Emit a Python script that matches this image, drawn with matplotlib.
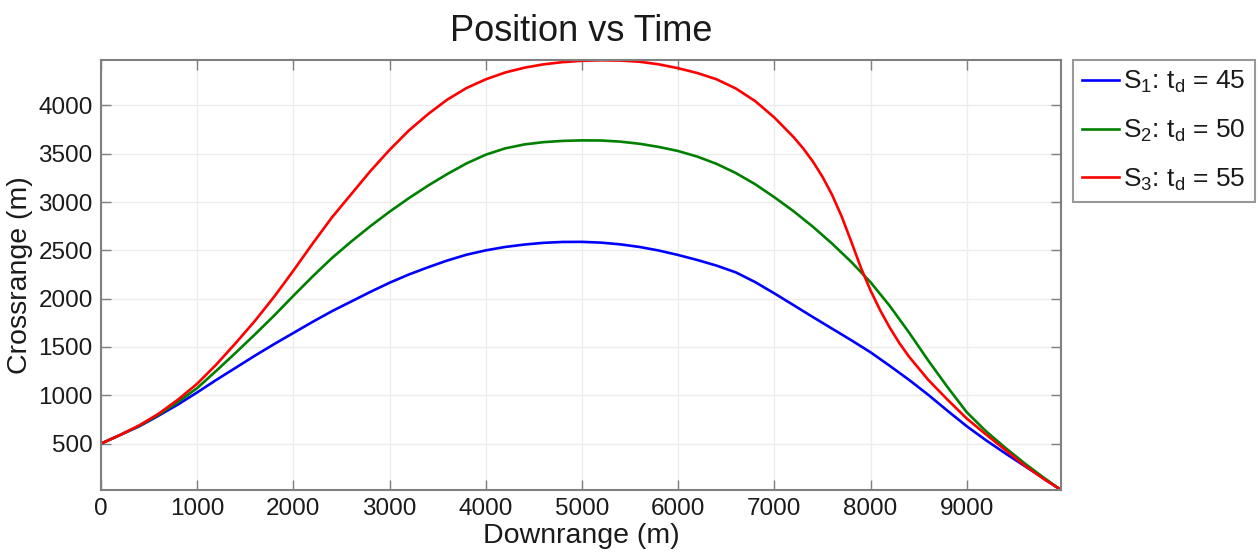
import matplotlib
matplotlib.use("Agg")
import matplotlib.pyplot as plt

plt.rcParams['font.family'] = ['Liberation Sans', 'DejaVu Sans']
plt.rcParams['mathtext.fontset'] = 'custom'
plt.rcParams['mathtext.rm'] = 'Liberation Sans'
plt.rcParams['mathtext.it'] = 'Liberation Sans'

# ---- data ----
blue_x = [0, 200, 400, 600, 800, 1000, 1200, 1400, 1600, 1800, 2000, 2200, 2400, 2600,
          2800, 3000, 3200, 3400, 3600, 3800, 4000, 4200, 4400, 4600, 4800, 5000, 5200,
          5400, 5600, 5800, 6000, 6200, 6400, 6600, 6800, 7000, 7200, 7400, 7600, 7800,
          8000, 8200, 8400, 8600, 8800, 9000, 9200, 9400, 9600, 9800, 9980]
blue_y = [500, 590, 680, 790, 905, 1030, 1160, 1285, 1410, 1530, 1645, 1760, 1870, 1970,
          2070, 2165, 2250, 2325, 2395, 2455, 2500, 2535, 2560, 2578, 2587, 2588, 2580,
          2562, 2535, 2498, 2452, 2400, 2342, 2272, 2172, 2055, 1933, 1810, 1690, 1570,
          1445, 1305, 1160, 1005, 840, 680, 535, 400, 270, 140, 20]

green_x = [0, 200, 400, 600, 800, 1000, 1200, 1400, 1600, 1800, 2000, 2200, 2400, 2600,
           2800, 3000, 3200, 3400, 3600, 3800, 4000, 4200, 4400, 4600, 4800, 5000, 5200,
           5400, 5600, 5800, 6000, 6200, 6400, 6600, 6800, 7000, 7200, 7400, 7600, 7800,
           8000, 8200, 8400, 8600, 8800, 9000, 9200, 9400, 9600, 9800, 9980]
green_y = [500, 590, 685, 800, 930, 1075, 1255, 1440, 1630, 1825, 2030, 2230, 2420, 2590,
           2750, 2900, 3040, 3170, 3290, 3400, 3490, 3555, 3596, 3620, 3633, 3638, 3637,
           3625, 3603, 3570, 3528, 3470, 3395, 3300, 3185, 3050, 2905, 2745, 2570, 2380,
           2170, 1925, 1650, 1360, 1085, 825, 628, 458, 297, 148, 20]

red_x = [0, 200, 400, 600, 800, 1000, 1200, 1400, 1600, 1800, 2000, 2200, 2400, 2600,
         2800, 3000, 3200, 3400, 3600, 3800, 4000, 4200, 4400, 4600, 4800, 5000, 5200,
         5400, 5600, 5800, 6000, 6200, 6400, 6600, 6800, 7000, 7200, 7300, 7400, 7500,
         7600, 7700, 7800, 7900, 8000, 8100, 8200, 8300, 8400, 8600, 8800, 9000, 9200,
         9400, 9600, 9800, 9980]
red_y = [500, 590, 690, 810, 955, 1120, 1320, 1540, 1770, 2020, 2290, 2570, 2840, 3080,
         3320, 3540, 3740, 3910, 4060, 4180, 4270, 4340, 4390, 4425, 4448, 4462, 4467,
         4464, 4452, 4425, 4385, 4335, 4270, 4175, 4045, 3875, 3672, 3555, 3420, 3262,
         3075, 2850, 2590, 2320, 2085, 1880, 1700, 1540, 1400, 1160, 955, 760, 595,
         435, 275, 135, 20]

labels = [r'S$\mathregular{_1}$: t$\mathregular{_d}$ = 45',
          r'S$\mathregular{_2}$: t$\mathregular{_d}$ = 50',
          r'S$\mathregular{_3}$: t$\mathregular{_d}$ = 55']
x_ticks = [0, 1000, 2000, 3000, 4000, 5000, 6000, 7000, 8000, 9000]
y_ticks = [500, 1000, 1500, 2000, 2500, 3000, 3500, 4000]

fig = plt.figure(figsize=(12.6, 5.53), dpi=100)
ax = fig.add_axes([101/1260, 1-490/553, 960/1260, 430/553])

lw = 1.9
ax.plot(blue_x, blue_y, color='#0000ff', lw=lw, label=labels[0])
ax.plot(green_x, green_y, color='#008000', lw=lw, label=labels[1])
ax.plot(red_x, red_y, color='#ff0000', lw=lw, label=labels[2])

ax.set_xlim(0, 9980)
ax.set_ylim(20, 4470)
ax.set_xticks(x_ticks)
ax.set_yticks(y_ticks)
ax.tick_params(direction='in', length=7, width=1, colors='#808080',
               labelcolor='#1a1a1a', labelsize=17.5, top=True, right=True, pad=6)
ax.grid(True, color='#ececec', lw=1)
ax.set_axisbelow(True)
for s in ax.spines.values():
    s.set_color('#808080')
    s.set_linewidth(1.5)

ax.set_xlabel('Downrange (m)', fontsize=20.5, color='#1a1a1a', labelpad=2)
ax.set_ylabel('Crossrange (m)', fontsize=20.5, color='#1a1a1a', labelpad=4)
ax.set_title('Position vs Time', fontsize=26, color='#1a1a1a', pad=14)

leg = fig.legend(loc='upper left', bbox_to_anchor=(1073/1260, 1-60/553),
                 frameon=True, fancybox=False, fontsize=19, handlelength=1.4,
                 handletextpad=0.15, borderpad=0.35, labelspacing=0.85,
                 borderaxespad=0)
leg.get_frame().set_edgecolor('#808080')
leg.get_frame().set_linewidth(1.5)
for t in leg.get_texts():
    t.set_color('#1a1a1a')

fig.savefig('out.png', dpi=100)
